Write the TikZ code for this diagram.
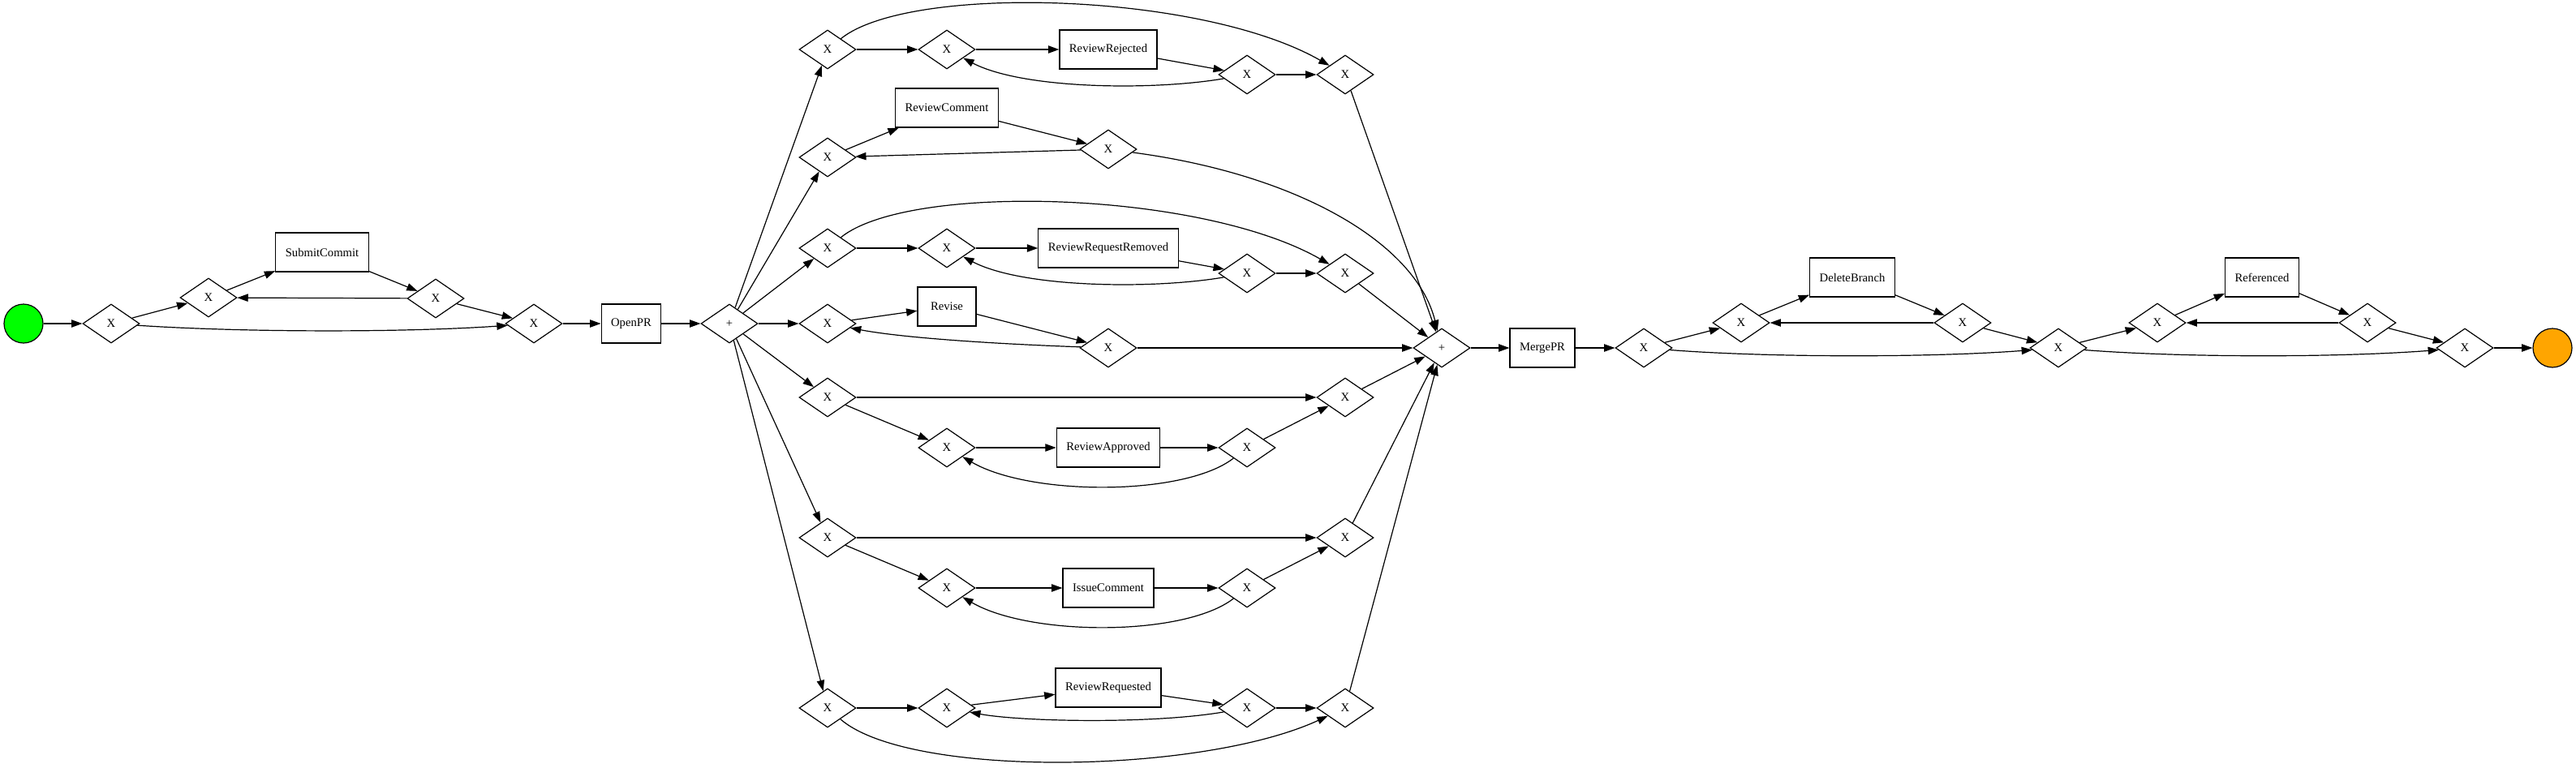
\documentclass[tikz,border=0pt]{standalone}
\usepackage{fontspec}
\setmainfont{Liberation Serif}
\usetikzlibrary{shapes.geometric,arrows.meta,positioning}

\definecolor{startgreen}{RGB}{0,255,0}
\definecolor{stoporange}{RGB}{255,165,0}

\tikzset{
	xor/.style={draw, diamond, line width=0.9pt, fill=white, minimum width=52.5pt, minimum height=36pt, inner sep=0pt},
	task/.style={draw, rectangle, line width=0.9pt, fill=white, minimum width=54pt, minimum height=36pt, inner xsep=9pt},
	event/.style={draw, circle, line width=0.9pt, minimum size=36pt, inner sep=0pt},
	flow/.style={-{Triangle[length=10pt,width=7pt]}, line width=0.9pt},
}

\begin{document}
\begin{tikzpicture}[x=0.75pt, y=-0.75pt, font=\fontsize{11}{13}\selectfont]
	% page size in pixels
	\def\xmax{3175}
	\def\ymax{946}
	\useasboundingbox (0,0) rectangle (\xmax,\ymax);

	% submit part
	\node[event, fill=startgreen] (start) at (29,399) {};
	\node[xor] (x1) at (137,399) {X};
	\node[xor] (x2) at (257,367) {X};
	\node[task] (submit) at (397,311) {SubmitCommit};
	\node[xor] (x3) at (537,368) {X};
	\node[xor] (x4) at (658,399) {X};
	\node[task] (openpr) at (778,399) {OpenPR};
	\node[xor] (and1) at (899,399) {+};

	% review rejected
	\node[xor] (rj1) at (1020,61) {X};
	\node[xor] (rj2) at (1167,61) {X};
	\node[task] (rejected) at (1366,61) {ReviewRejected};
	\node[xor] (rj3) at (1537,92) {X};
	\node[xor] (rj4) at (1658,92) {X};

	% review comment
	\node[xor] (cm1) at (1020,194) {X};
	\node[task] (comment) at (1167,133) {ReviewComment};
	\node[xor] (cm2) at (1366,184) {X};

	% review request removed
	\node[xor] (rm1) at (1020,306) {X};
	\node[xor] (rm2) at (1167,306) {X};
	\node[task] (removed) at (1366,306) {ReviewRequestRemoved};
	\node[xor] (rm3) at (1537,337) {X};
	\node[xor] (rm4) at (1658,337) {X};

	% revise
	\node[xor] (rv1) at (1020,399) {X};
	\node[task] (revise) at (1167,378) {Revise};
	\node[xor] (rv2) at (1366,429) {X};

	% review approved
	\node[xor] (ap1) at (1020,490) {X};
	\node[xor] (ap2) at (1167,552) {X};
	\node[task] (approved) at (1366,552) {ReviewApproved};
	\node[xor] (ap3) at (1537,552) {X};
	\node[xor] (ap4) at (1658,490) {X};

	% issue comment
	\node[xor] (ic1) at (1020,663) {X};
	\node[xor] (ic2) at (1167,725) {X};
	\node[task] (issue) at (1366,725) {IssueComment};
	\node[xor] (ic3) at (1537,725) {X};
	\node[xor] (ic4) at (1658,663) {X};

	% review requested
	\node[xor] (rq1) at (1020,873) {X};
	\node[xor] (rq2) at (1167,873) {X};
	\node[task] (requested) at (1366,848) {ReviewRequested};
	\node[xor] (rq3) at (1537,873) {X};
	\node[xor] (rq4) at (1658,873) {X};

	% merge part
	\node[xor] (and2) at (1777,429) {+};
	\node[task] (mergepr) at (1901,429) {MergePR};
	\node[xor] (x5) at (2026,429) {X};
	\node[xor] (x6) at (2146,398) {X};
	\node[task] (delete) at (2283,342) {DeleteBranch};
	\node[xor] (x7) at (2419,398) {X};
	\node[xor] (x8) at (2537,429) {X};
	\node[xor] (x9) at (2659,398) {X};
	\node[task] (referenced) at (2788,342) {Referenced};
	\node[xor] (x10) at (2918,398) {X};
	\node[xor] (x11) at (3038,429) {X};
	\node[event, fill=stoporange] (stop) at (3146,429) {};

	% straight arrows
	\foreach \a/\b in {start/x1, x1/x2, x2/submit, submit/x3, x3/x2, x3/x4, x4/openpr, openpr/and1,
		and1/rj1, and1/cm1, and1/rm1, and1/rv1, and1/ap1, and1/ic1, and1/rq1,
		rj1/rj2, rj2/rejected, rejected/rj3, rj3/rj4, rj4/and2,
		cm1/comment, comment/cm2, cm2/cm1,
		rm1/rm2, rm2/removed, removed/rm3, rm3/rm4, rm4/and2,
		rv1/revise, revise/rv2, rv2/and2,
		ap1/ap4, ap1/ap2, ap2/approved, approved/ap3, ap3/ap4, ap4/and2,
		ic1/ic4, ic1/ic2, ic2/issue, issue/ic3, ic3/ic4, ic4/and2,
		rq1/rq2, rq2/requested, requested/rq3, rq3/rq4, rq4/and2,
		and2/mergepr, mergepr/x5, x5/x6, x6/delete, delete/x7, x7/x6, x7/x8,
		x8/x9, x9/referenced, referenced/x10, x10/x9, x10/x11, x11/stop}
		\draw[flow] (\a) -- (\b);

	% skips and loops
	\draw[flow] (x1) .. controls (300,410) and (500,410) .. (x4);
	\draw[flow] (x5) .. controls (2180,441) and (2380,441) .. (x8);
	\draw[flow] (x8) .. controls (2690,441) and (2880,441) .. (x11);
	\draw[flow] (rj1) .. controls (1120,-20) and (1480,-10) .. (rj4);
	\draw[flow] (rj3) .. controls (1420,112) and (1260,110) .. (rj2);
	\draw[flow] (cm2) .. controls (1600,215) and (1745,300) .. (and2);
	\draw[flow] (rm1) .. controls (1120,225) and (1480,235) .. (rm4);
	\draw[flow] (rm3) .. controls (1420,357) and (1260,355) .. (rm2);
	\draw[flow] (rv2) .. controls (1250,425) and (1120,418) .. (rv1);
	\draw[flow] (ap3) .. controls (1460,612) and (1270,612) .. (ap2);
	\draw[flow] (ic3) .. controls (1460,785) and (1270,785) .. (ic2);
	\draw[flow] (rq3) .. controls (1420,893) and (1260,890) .. (rq2);
	\draw[flow] (rq1) .. controls (1120,960) and (1480,955) .. (rq4);
\end{tikzpicture}
\end{document}
